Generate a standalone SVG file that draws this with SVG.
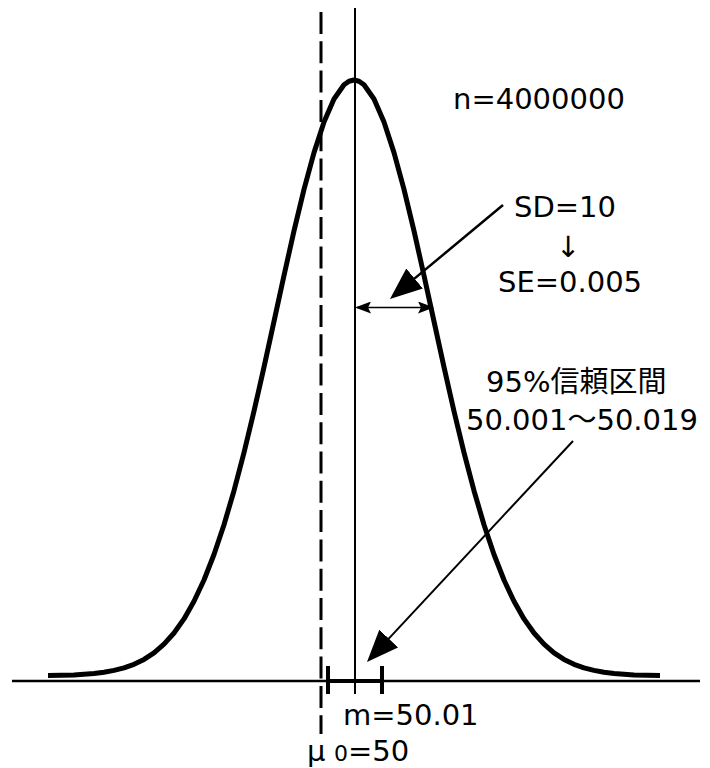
<svg xmlns="http://www.w3.org/2000/svg" width="710" height="768" viewBox="0 0 710 768">
<style>
  .lbl { font-family: 'DejaVu Sans', 'Noto Sans CJK JP', sans-serif; font-size: 29px; fill: #000; }
  .thin { stroke: #000; fill: none; }
</style>
<defs>
  <marker id="bigHead" viewBox="0 0 32 26" refX="10" refY="13" markerWidth="32" markerHeight="26" markerUnits="userSpaceOnUse" orient="auto">
    <path d="M0,0 L32,13 L0,26 Z" fill="#000"/>
  </marker>
  <marker id="smallHead" viewBox="0 0 16 12" refX="14" refY="6" markerWidth="16" markerHeight="12" markerUnits="userSpaceOnUse" orient="auto-start-reverse">
    <path d="M0,0 L16,6 L0,12 L3,6 Z" fill="#000"/>
  </marker>
</defs>
<rect x="0" y="0" width="710" height="768" fill="#fff"/>

<g id="axis">
  <line x1="12" y1="681" x2="700" y2="681" stroke="#000" stroke-width="2.5"/>
</g>

<g id="mu0-line">
  <line x1="321" y1="12" x2="321" y2="734" stroke="#000" stroke-width="3" stroke-dasharray="22 7.3"/>
</g>

<g id="mean-line">
  <line x1="355" y1="8" x2="355" y2="694" stroke="#000" stroke-width="2"/>
</g>

<g id="curve">
  <path d="M48,675.6 L74,675 L94,673.5 L104,672.3 L114,670.4 L124,667.8 L134,664.3 L144,659.4 L154,652.8 L164,644.1 L174,633 L184,618.9 L194,601.3 L204,580 L214,554.5 L224,524.7 L234,490.7 L244,452.7 L254,411.2 L264,367.1 L274,321.4 L284,275.5 L294,230.9 L304,189.4 L314,152.6 L324,122 L334,99 L344,84.8 L349,81.2 L354,80 L359,81.2 L364,84.8 L374,99 L384,122 L394,152.6 L404,189.4 L414,230.9 L424,275.5 L434,321.4 L444,367.1 L454,411.2 L464,452.7 L474,490.7 L484,524.7 L494,554.5 L504,580 L514,601.3 L524,618.9 L534,633 L544,644.1 L554,652.8 L564,659.4 L574,664.3 L584,667.8 L594,670.4 L604,672.3 L614,673.5 L634,675 L660,675.6" fill="none" stroke="#000" stroke-width="5" stroke-linejoin="round"/>
</g>

<g id="ci-bar">
  <line x1="328" y1="681" x2="382" y2="681" stroke="#000" stroke-width="4"/>
  <line x1="328" y1="666" x2="328" y2="694" stroke="#000" stroke-width="4"/>
  <line x1="382" y1="666" x2="382" y2="694" stroke="#000" stroke-width="4"/>
</g>

<g id="connectors">
  <line x1="357" y1="307.5" x2="432" y2="307.5" stroke="#000" stroke-width="1.5" marker-start="url(#smallHead)" marker-end="url(#smallHead)"/>
  <line x1="503" y1="205" x2="406.9" y2="284.9" stroke="#000" stroke-width="2.5" marker-end="url(#bigHead)"/>
  <line x1="573" y1="441" x2="382" y2="645.9" stroke="#000" stroke-width="2" marker-end="url(#bigHead)"/>
</g>

<g id="label-n">
  <text class="lbl" x="453" y="109">n=4000000</text>
</g>
<g id="label-sd">
  <text class="lbl" x="514" y="217">SD=10</text>
  <text class="lbl" x="556" y="257">↓</text>
  <text class="lbl" x="498" y="292">SE=0.005</text>
</g>
<g id="label-ci">
  <text class="lbl" x="486" y="392">95%信頼区間</text>
  <text class="lbl" x="466" y="430">50.001〜50.019</text>
</g>
<g id="label-m">
  <text class="lbl" x="343" y="725">m=50.01</text>
</g>
<g id="label-mu0">
  <text class="lbl" x="307" y="761">μ<tspan x="334" font-size="22">0</tspan><tspan x="348">=50</tspan></text>
</g>
</svg>
